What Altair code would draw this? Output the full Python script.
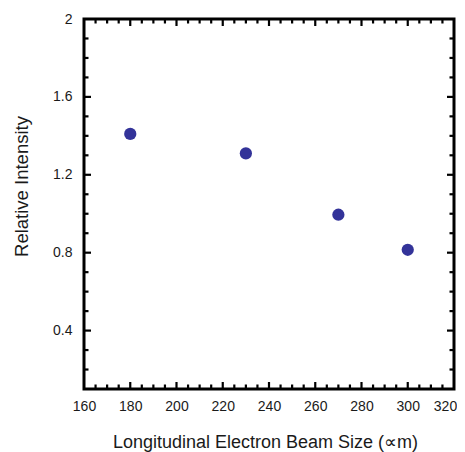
import altair as alt
import pandas as pd

# Data
beam_size = [180, 230, 270, 300]
intensity = [1.41, 1.31, 0.995, 0.815]

x_labels = [160, 180, 200, 220, 240, 260, 280, 300, 320]
y_labels = [0.4, 0.8, 1.2, 1.6, 2.0]
x_major = [180, 200, 220, 240, 260, 280, 300]
x_minor = [165, 170, 175, 185, 190, 195, 205, 210, 215, 225, 230, 235,
           245, 250, 255, 265, 270, 275, 285, 290, 295, 305, 310, 315]
y_major = [0.4, 0.8, 1.2, 1.6]
y_minor = [0.2, 0.3, 0.5, 0.6, 0.7, 0.9, 1.0, 1.1, 1.3, 1.4, 1.5, 1.7, 1.8, 1.9]

W, H = 370, 370
XDOM = [160, 320]
YDOM = [0.1, 2.0]
FONT = "Liberation Sans"
TXT = "#1a1a1a"

df = pd.DataFrame({"size": beam_size, "intensity": intensity})

points = alt.Chart(df).mark_circle(size=150, color="#333399", opacity=1).encode(
    x=alt.X("size:Q", scale=alt.Scale(domain=XDOM, nice=False, zero=False),
            axis=alt.Axis(values=x_labels, ticks=False, domain=False, grid=False,
                          labelFlush=False, labelOverlap=False,
                          labelOffset={"condition": {"test": "datum.value >= 320", "value": -9}, "value": 0},
                          labelPadding=10, labelFontSize=14, labelFont=FONT, labelColor=TXT,
                          title="Longitudinal Electron Beam Size (\u221dm)",
                          titleFont=FONT, titleFontSize=18, titleFontWeight="normal",
                          titleColor=TXT, titleX=181, titleY=58,
                          titleBaseline="alphabetic", titleAlign="center")),
    y=alt.Y("intensity:Q", scale=alt.Scale(domain=YDOM, nice=False, zero=False),
            axis=alt.Axis(values=y_labels, format=".1~f", ticks=False, domain=False, grid=False,
                          labelFlush=False, labelOverlap=False,
                          labelPadding=12, labelFontSize=14, labelFont=FONT, labelColor=TXT,
                          title="Relative Intensity",
                          titleFont=FONT, titleFontSize=18.5, titleFontWeight="normal",
                          titleColor=TXT, titleX=-57, titleY=167, titleAngle=270,
                          titleBaseline="alphabetic", titleAlign="center")),
)


def xticks(vals, length):
    d = pd.DataFrame({"size": vals})
    xe = alt.X("size:Q", scale=alt.Scale(domain=XDOM, nice=False, zero=False))
    bottom = alt.Chart(d).mark_rule(color="black", strokeWidth=2.2).encode(
        x=xe, y=alt.value(H), y2=alt.value(H - length))
    top = alt.Chart(d).mark_rule(color="black", strokeWidth=2.2).encode(
        x=xe, y=alt.value(0), y2=alt.value(length))
    return [bottom, top]


def yticks(vals, length):
    d = pd.DataFrame({"intensity": vals})
    ye = alt.Y("intensity:Q", scale=alt.Scale(domain=YDOM, nice=False, zero=False))
    left = alt.Chart(d).mark_rule(color="black", strokeWidth=2.2).encode(
        y=ye, x=alt.value(0), x2=alt.value(length))
    right = alt.Chart(d).mark_rule(color="black", strokeWidth=2.2).encode(
        y=ye, x=alt.value(W), x2=alt.value(W - length))
    return [left, right]


layers = [points] + xticks(x_major, 7) + xticks(x_minor, 4.5) + yticks(y_major, 7) + yticks(y_minor, 4.5)

chart = alt.layer(*layers).properties(
    width=W, height=H,
    autosize=alt.AutoSizeParams(type="none"),
    padding={"left": 76, "top": 11, "right": 3, "bottom": 63},
    background="white",
).configure_view(stroke="black", strokeWidth=3)

chart.save("out.html", embed_options={"renderer": "svg", "actions": False})
